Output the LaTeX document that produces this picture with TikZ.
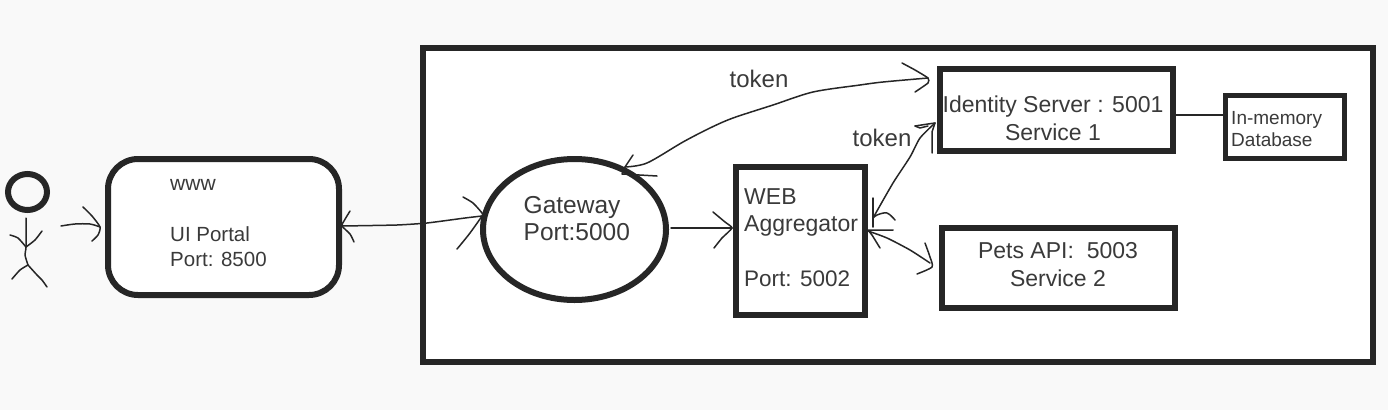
\documentclass[tikz,border=0pt]{standalone}
\usepackage{fontspec}
\setmainfont{Liberation Sans}
\usetikzlibrary{shapes.geometric}
\definecolor{ink}{HTML}{262626}
\definecolor{txt}{HTML}{3A3A3A}
\definecolor{paper}{HTML}{F9F9F9}
\tikzset{
  box/.style={draw=ink,line width=5.5pt,fill=white,inner sep=0pt,outer sep=0pt,anchor=north west},
  lbl/.style={text=txt,font=\fontsize{21}{28}\selectfont,inner sep=0pt,align=center},
  lblleft/.style={lbl,align=left,anchor=west},
  pen/.style={draw=ink,line width=1.5pt,line join=round,line cap=round},
}
\begin{document}
\begin{tikzpicture}[x=1pt,y=-1pt]
\useasboundingbox (0,0) rectangle (1388,410);
\fill[paper] (0,0) rectangle (1388,410);
% container
\node[box,minimum width=950pt,minimum height=314pt] (sys) at (423,48) {};
% actor
\node[draw=ink,line width=6pt,ellipse,minimum width=39pt,minimum height=36pt,inner sep=0pt] (head) at (27.5,192) {};
\coordinate (neck) at (26,218);\coordinate (hip) at (26,247);\coordinate (fork) at (28,265);
\draw[pen] plot[smooth,tension=.4] coordinates {(neck) (hip) (25,255) (fork)};
\draw[pen] plot[smooth,tension=.4] coordinates {(10,235) (18,238) (hip)};
\draw[pen] plot[smooth,tension=.4] coordinates {(42,231) (35,240) (hip)};
\draw[pen] plot[smooth,tension=.4] coordinates {(12,279) (20,270) (fork)};
\draw[pen] plot[smooth,tension=.4] coordinates {(fork) (37,275) (42,280) (47,287)};
% boxes
\node[box,line width=6pt,rounded corners=30pt,minimum width=231pt,minimum height=136pt] (ui) at (108,159) {};
\node[draw=ink,line width=6pt,fill=white,ellipse,minimum width=183pt,minimum height=141pt,inner sep=0pt,outer sep=0pt] (gw) at (574.5,229.5) {};
\node[box,minimum width=129pt,minimum height=148pt] (agg) at (736,167) {};
\node[box,minimum width=233pt,minimum height=82pt] (ids) at (940,69) {};
\node[box,minimum width=233pt,minimum height=80pt] (pets) at (942,228) {};
\node[box,line width=5pt,minimum width=119pt,minimum height=63pt] (db) at (1225.5,95.5) {};
% texts
\node[lblleft] (t1) at (170,185) {www};
\node[lblleft,font=\fontsize{20.5}{25}\selectfont] (t2) at (170,246.5) {UI Portal\\Port: 8500};
\node[lblleft,font=\fontsize{24.5}{27}\selectfont] (t3) at (523.5,219) {Gateway\\Port:5000};
\node[lblleft,font=\fontsize{23}{27}\selectfont] (t4) at (744,212) {WEB\\Aggregator};
\node[lblleft,font=\fontsize{22.5}{27}\selectfont] (t5) at (744,279) {Port: 5002};
\node[lbl,font=\fontsize{23}{28}\selectfont] (t6) at (1053,118) {Identity Server : 5001\\Service 1};
\node[lbl,font=\fontsize{23}{28}\selectfont] (t7) at (1058,265) {Pets API:\ \ 5003\\Service 2};
\node[lblleft,font=\fontsize{19}{22}\selectfont] (t8) at (1231,129) {In-memory\\Database};
\node[lbl,font=\fontsize{24}{28}\selectfont] (t9) at (759,79) {token};
\node[lbl,font=\fontsize{24}{28}\selectfont] (t10) at (882,138) {token};
% connector ends
\coordinate (a0) at (61,226);
\coordinate (a1) at (100,227);
\coordinate (b0) at (342,226);
\coordinate (b1) at (482,216);
\coordinate (c0) at (671,228);
\coordinate (c1) at (732,228);
\coordinate (d0) at (625,167);
\coordinate (d1) at (928,78);
\coordinate (e0) at (873,218);
\coordinate (e1) at (935,123);
\coordinate (f0) at (868,231);
\coordinate (f1) at (930,263);
% actor -> portal
\draw[pen] plot[smooth,tension=.5] coordinates {(a0) (75,224) (90,224) (a1)};
\draw[pen] plot[smooth,tension=.4] coordinates {(83,207) (92,216) (a1) (98,235) (92,241)};
% portal <-> gateway
\draw[pen] plot[smooth,tension=.3] coordinates {(b0) (397,225) (427,223) (465,218) (b1)};
\draw[pen] plot[smooth,tension=.4] coordinates {(350,211) (344,221) (b0) (350,234) (354,242)};
\draw[pen] plot[smooth,tension=.4] coordinates {(463,197) (473,203) (482,213) (b1) (470,233) (462,243) (457,249)};
% gateway -> aggregator
\draw[pen] (c0) -- (c1);
\draw[pen] plot[smooth,tension=.3] coordinates {(713,212) (725,222) (c1) (722,238) (714,248)};
% gateway <-> identity
\draw[pen] plot[smooth,tension=.5] coordinates {(d0) (647,163) (683,142) (710,128) (733,118) (773,105) (813,92) (860,85) (883,82) (d1)};
\draw[pen] (633,155) -- (d0) -- (622,174) -- (657,176);
\draw[pen] plot[smooth,tension=.3] coordinates {(902,63) (915,70) (d1) (928,83) (915,92)};
% aggregator <-> identity
\draw[pen] plot[smooth,tension=.4] coordinates {(e0) (893,183) (910,157) (920,138) (e1)};
\draw[pen] (915,126) -- (928,124) -- (e1) -- (932,132) -- (932,153);
\draw[pen] (915,126) -- (920,128) -- (928,126);
\draw[pen] (873,198) -- (873,227);
\draw[pen] plot[smooth,tension=.6] coordinates {(895,220) (887,213) (877,215) (e0)};
% aggregator <-> pets
\draw[pen] plot[smooth,tension=.4] coordinates {(f0) (887,238) (910,250) (f1)};
\draw[pen] (893,230) -- (868,230) -- (872,235) -- (880,248);
\draw[pen] plot[smooth,tension=.4] coordinates {(925,243) (930,257) (932,267) (917,274)};
% identity - database
\draw[pen] (ids.east |- 0,115) -- (db.west |- 0,115);
\end{tikzpicture}
\end{document}
